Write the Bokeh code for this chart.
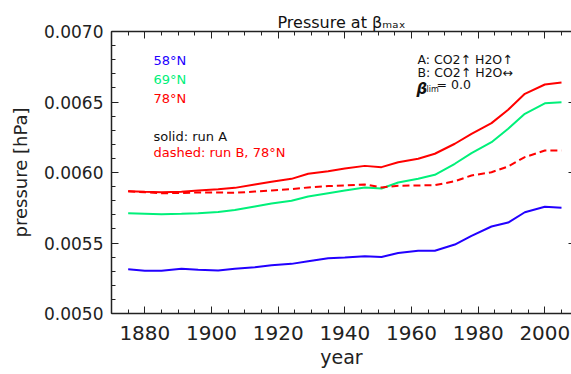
from bokeh.plotting import figure
from bokeh.models import (Range1d, LinearAxis, SingleIntervalTicker, PrintfTickFormatter,
                          CustomJSTickFormatter, Label)
from bokeh.embed import file_html
from bokeh.resources import INLINE

years = [1875, 1880, 1885, 1891, 1896, 1902, 1907, 1913, 1918, 1924, 1929, 1935, 1940,
         1946, 1951, 1956, 1962, 1967, 1973, 1978, 1984, 1989, 1994, 2000, 2005]
p58_A = [0.005314, 0.005303, 0.005303, 0.005317, 0.005310, 0.005305, 0.005317, 0.005328,
         0.005343, 0.005352, 0.005371, 0.005392, 0.005397, 0.005406, 0.005401, 0.005429,
         0.005445, 0.005445, 0.005489, 0.005551, 0.005617, 0.005645, 0.005718, 0.005757,
         0.005750]
p69_A = [0.005711, 0.005708, 0.005704, 0.005707, 0.005711, 0.005720, 0.005734, 0.005759,
         0.005780, 0.005799, 0.005830, 0.005853, 0.005872, 0.005894, 0.005887, 0.005929,
         0.005955, 0.005984, 0.006062, 0.006137, 0.006215, 0.006310, 0.006416, 0.006491,
         0.006499]
p78_A = [0.005867, 0.005863, 0.005860, 0.005863, 0.005872, 0.005882, 0.005891, 0.005915,
         0.005934, 0.005955, 0.005991, 0.006009, 0.006028, 0.006047, 0.006038, 0.006073,
         0.006097, 0.006133, 0.006204, 0.006274, 0.006350, 0.006445, 0.006558, 0.006624,
         0.006638]
p78_B = [0.005867, 0.005860, 0.005853, 0.005855, 0.005858, 0.005858, 0.005856, 0.005865,
         0.005872, 0.005882, 0.005894, 0.005904, 0.005908, 0.005915, 0.005894, 0.005906,
         0.005908, 0.005910, 0.005938, 0.005979, 0.006002, 0.006043, 0.006109, 0.006156,
         0.006156]

C_BLUE = "#2200ff"
C_GREEN = "#00f07a"
C_RED = "#ff0000"
FONT = "DejaVu Sans"
INK = "#222222"

X0, X1 = 1870, 2008
Y0, Y1 = 0.0050, 0.0070

p = figure(width=571, height=374, output_backend="svg", toolbar_location=None,
           x_range=Range1d(X0, X1), y_range=Range1d(Y0, Y1), title=None,
           min_border_left=111, min_border_top=31, min_border_bottom=61, min_border_right=0,
           x_axis_label="year", y_axis_label="pressure [hPa]")
p.outline_line_color = None
p.xgrid.visible = False
p.ygrid.visible = False
p.background_fill_color = None
p.border_fill_color = "white"

xt = SingleIntervalTicker(interval=20, num_minor_ticks=4)
yt = SingleIntervalTicker(interval=0.0005, num_minor_ticks=5)
blank = CustomJSTickFormatter(code="return ''")

xa = p.xaxis[0]
xa.ticker = xt
xa.major_tick_in = 7
xa.major_tick_out = 0
xa.minor_tick_in = 4
xa.minor_tick_out = 0
xa.major_label_standoff = 12
xa.axis_label_standoff = 3
xa.major_label_text_font = FONT
xa.major_label_text_font_size = "20px"
xa.major_label_text_color = INK
xa.axis_label_text_font = FONT
xa.axis_label_text_font_size = "19px"
xa.axis_label_text_font_style = "normal"
xa.axis_label_text_color = INK
xa.axis_line_width = 1.5
xa.axis_line_color = INK
xa.major_tick_line_color = INK
xa.minor_tick_line_color = INK

ya = p.yaxis[0]
ya.ticker = yt
ya.formatter = PrintfTickFormatter(format="%.4f")
ya.major_tick_in = 7
ya.major_tick_out = 0
ya.minor_tick_in = 4
ya.minor_tick_out = 0
ya.major_label_standoff = 8
ya.axis_label_standoff = 10
ya.major_label_text_font = FONT
ya.major_label_text_font_size = "17px"
ya.major_label_text_color = INK
ya.axis_label_text_font = FONT
ya.axis_label_text_font_size = "18px"
ya.axis_label_text_font_style = "normal"
ya.axis_label_text_color = INK
ya.axis_line_width = 1.5
ya.axis_line_color = INK
ya.major_tick_line_color = INK
ya.minor_tick_line_color = INK

top = LinearAxis(ticker=xt, major_tick_in=7, major_tick_out=0,
                 minor_tick_in=4, minor_tick_out=0, major_label_text_font_size="6px",
                 major_label_text_color=None,
                 major_label_standoff=0, axis_line_width=1.5, axis_line_color=INK,
                 major_tick_line_color=INK, minor_tick_line_color=INK,
                 axis_label="Pressure at \u03b2\u2098\u2090\u2093", axis_label_standoff=0,
                 axis_label_text_font=FONT, axis_label_text_font_size="16px",
                 axis_label_text_font_style="normal", axis_label_text_color="#111111")
right = LinearAxis(ticker=yt, formatter=blank, major_tick_in=3, major_tick_out=0,
                   minor_tick_in=0, minor_tick_out=0, major_label_text_font_size="1px",
                   major_label_standoff=0, axis_line_color=None,
                   major_tick_line_color=INK, minor_tick_line_color=None)
p.add_layout(right, "right")
p.add_layout(top, "above")

p.line(years, p58_A, line_color=C_BLUE, line_width=2)
p.line(years, p69_A, line_color=C_GREEN, line_width=2)
p.line(years, p78_A, line_color=C_RED, line_width=2)
p.line(years, p78_B, line_color=C_RED, line_width=2, line_dash="7 4")


def dx(px):
    return X0 + (px - 111) / 3.3333


def dy(py):
    return Y0 + (313 - py) / 141000.0


def lab(text, px, py, size, color="#111111", style="normal", align="left",
        baseline="middle", font=FONT):
    p.add_layout(Label(x=dx(px), y=dy(py), text=text, text_font=font,
                       text_font_size=size, text_color=color, text_font_style=style,
                       text_align=align, text_baseline=baseline))


# legend
lab("58°N", 153, 60, "13px", color=C_BLUE)
lab("69°N", 153, 79, "13px", color=C_GREEN)
lab("78°N", 153, 98, "13px", color=C_RED)
lab("solid: run A", 153, 136, "13px", color="#111111")
lab("dashed: run B, 78°N", 153, 152, "13px", color=C_RED)

# run annotation
lab("A: CO2\u2191 H2O\u2191", 417, 59, "12.5px")
lab("B: CO2\u2191 H2O\u2194", 417, 72, "12.5px")
lab("\u03b2", 416, 88, "15px", style="bold italic", baseline="alphabetic")
lab("lim", 426, 89, "8px", baseline="alphabetic")
lab("=  0.0", 436, 84, "12.5px")

open("out.html", "w").write(file_html(p, INLINE))
